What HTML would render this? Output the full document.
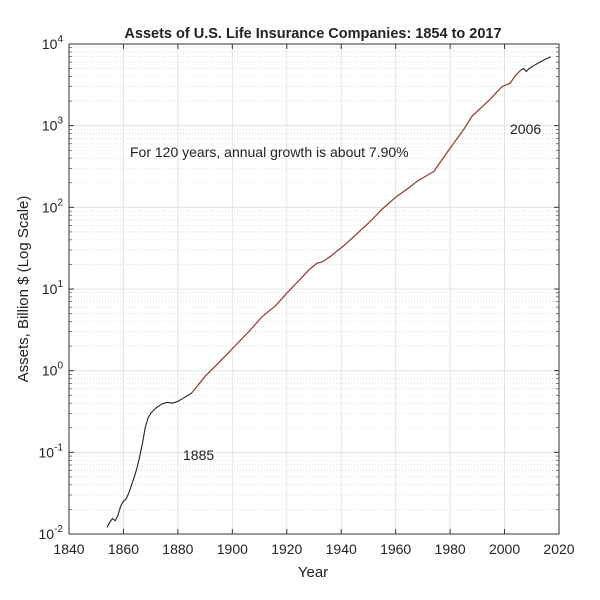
<!DOCTYPE html>
<html><head><meta charset="utf-8"><style>body{margin:0;background:#fff}svg{display:block}text{font-family:"Liberation Sans",sans-serif;fill:#222}</style></head>
<body>
<svg id="s" width="600" height="600" xmlns="http://www.w3.org/2000/svg"></svg>
<script>
const L=69,R=559,T=44,B=534;
const X=y=>L+(y-1840)/180*(R-L);
const Y=v=>B-(Math.log10(v)+2)/6*(B-T);
let h='';
for(let d=-2;d<4;d++)for(let k=2;k<10;k++){const y=Y(k*Math.pow(10,d));h+=`<line x1="${L}" x2="${R}" y1="${y}" y2="${y}" stroke="#ccc" stroke-width="0.6" stroke-dasharray="1,2"/>`;
h+=`<line x1="${L}" x2="${L+3}" y1="${y}" y2="${y}" stroke="#333" stroke-width="0.6"/><line x1="${R-3}" x2="${R}" y1="${y}" y2="${y}" stroke="#333" stroke-width="0.6"/>`;}
for(let d=-2;d<=4;d++){const y=Y(Math.pow(10,d));h+=`<line x1="${L}" x2="${R}" y1="${y}" y2="${y}" stroke="#ddd" stroke-width="0.8"/>`;
h+=`<line x1="${L}" x2="${L+5}" y1="${y}" y2="${y}" stroke="#333"/><line x1="${R-5}" x2="${R}" y1="${y}" y2="${y}" stroke="#333"/>`;
h+=`<text x="${L-6}" y="${y+5}" text-anchor="end" font-size="14">10<tspan dy="-7" font-size="10">${d<0?'-'+(-d):d}</tspan></text>`;}
for(let yr=1840;yr<=2020;yr+=20){const x=X(yr);h+=`<line x1="${x}" x2="${x}" y1="${T}" y2="${B}" stroke="#ddd" stroke-width="0.8"/>`;
h+=`<line x1="${x}" x2="${x}" y1="${B}" y2="${B-5}" stroke="#333"/><line x1="${x}" x2="${x}" y1="${T}" y2="${T+5}" stroke="#333"/>`;
h+=`<text x="${x}" y="${B+20}" text-anchor="middle" font-size="14">${yr}</text>`;}
h+=`<rect x="${L}" y="${T}" width="${R-L}" height="${B-T}" fill="none" stroke="#333" stroke-width="1"/>`;
const d=[[1854,.012],[1855,.014],[1856,.0155],[1857,.0145],[1858,.017],[1859,.022],[1860,.025],[1861,.027],[1862,.032],[1863,.04],[1864,.05],[1865,.065],[1866,.09],[1867,.13],[1868,.2],[1869,.26],[1870,.3],[1872,.35],[1874,.39],[1876,.41],[1878,.40],[1880,.42],[1882,.46],[1885,.53],[1890,.85],[1895,1.25],[1900,1.85],[1906,3.0],[1911,4.6],[1916,6.3],[1920,8.9],[1924,12.2],[1928,17],[1931,20.6],[1933,21.5],[1936,25],[1941,34],[1945,45],[1950,64],[1955,95],[1960,133],[1965,175],[1968,210],[1971,240],[1974,275],[1980,530],[1985,900],[1988,1300],[1990,1500],[1995,2150],[1999,3000],[2002,3300],[2004,4100],[2006,4800],[2007,5000],[2008,4600],[2009,5000],[2011,5500],[2013,6000],[2015,6500],[2017,7000]];
const pts=a=>a.map(p=>X(p[0]).toFixed(1)+','+Y(p[1]).toFixed(1)).join(' ');
h+=`<polyline points="${pts(d)}" fill="none" stroke="#222" stroke-width="1.1"/>`;
h+=`<polyline points="${pts(d.filter(p=>p[0]>=1885&&p[0]<=2006))}" fill="none" stroke="#a0453a" stroke-width="1.1"/>`;
h+=`<text x="313" y="38" text-anchor="middle" font-size="14.5" font-weight="bold">Assets of U.S. Life Insurance Companies: 1854 to 2017</text>`;
h+=`<text x="130" y="157" font-size="14">For 120 years, annual growth is about 7.90%</text>`;
h+=`<text x="183" y="460" font-size="14">1885</text><text x="510" y="134" font-size="14">2006</text>`;
h+=`<text x="313" y="577" text-anchor="middle" font-size="15">Year</text>`;
h+=`<text transform="translate(28,289) rotate(-90)" text-anchor="middle" font-size="15">Assets, Billion $ (Log Scale)</text>`;
document.getElementById('s').innerHTML=h;
</script>
</body></html>
